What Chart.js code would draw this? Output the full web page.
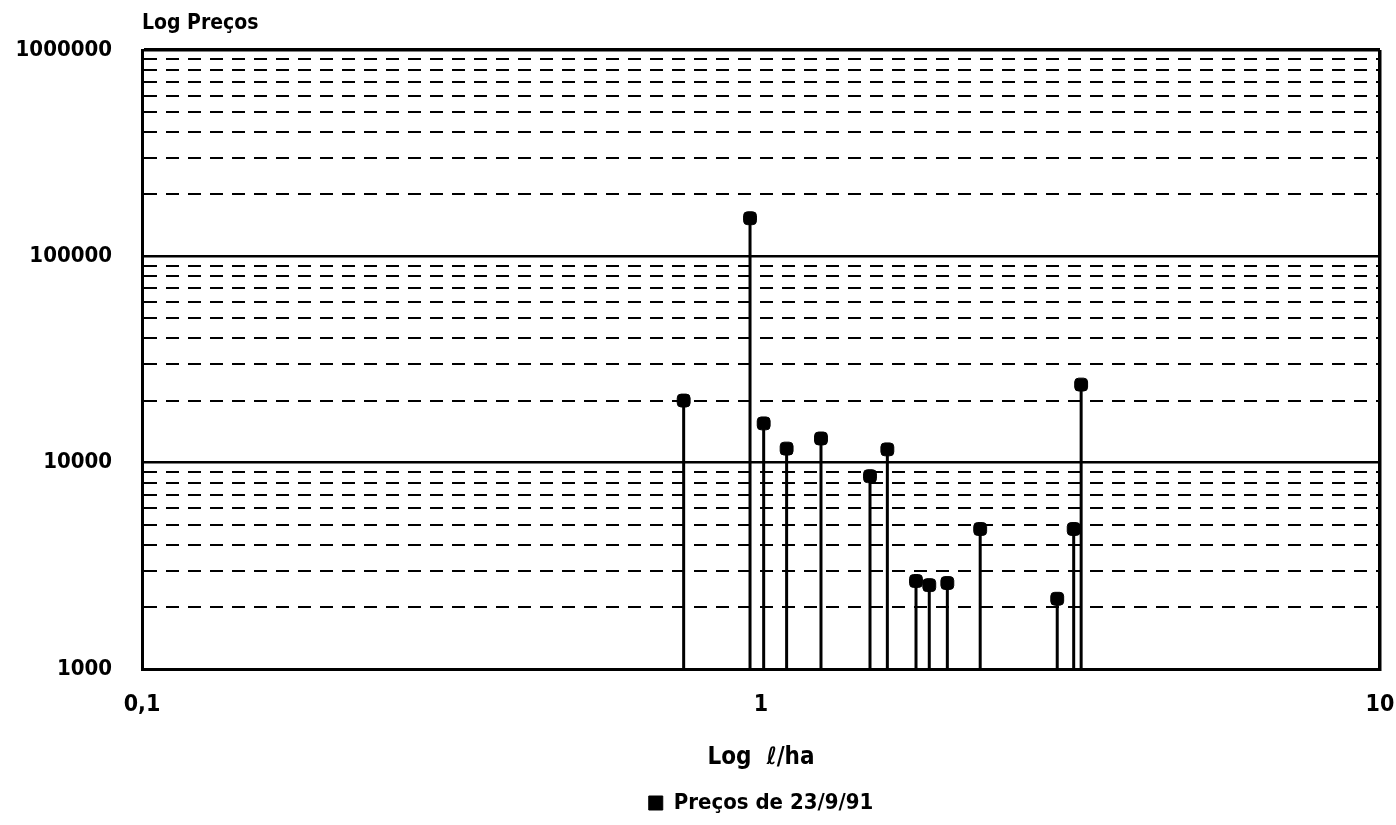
<!DOCTYPE html>
<html lang="pt">
<head>
<meta charset="utf-8">
<title>Log Preços × Log ℓ/ha</title>
<script src="https://cdn.jsdelivr.net/npm/chart.js@4.4.1/dist/chart.umd.min.js"></script>
<style>
  html, body { margin: 0; padding: 0; background: #fff; }
  canvas { display: block; }
</style>
</head>
<body>
<canvas id="chart" width="1396" height="825"></canvas>
<script>
// Doses (ℓ/ha) e preços observados em 23/9/91
const doses  = [0.75, 0.96, 1.01, 1.10, 1.25, 1.50, 1.60, 1.78, 1.87, 2.00, 2.26, 3.01, 3.20, 3.29];
const precos = [20000, 153000, 15500, 11700, 13100, 8600, 11600, 2670, 2550, 2610, 4770, 2190, 4770, 23900];

// Eixo dos preços: décadas (com rótulo) e subdivisões 2..9 de cada década
const yDecadas = [1000, 10000, 100000, 1000000];
const ySubdivisoes = [2, 3, 4, 5, 6, 7, 8, 9];

// Eixo das doses
const xTicks  = [0.1, 1, 10];
const xLabels = ['0,1', '1', '10'];

const serieNome = 'Preços de 23/9/91';

const yTicks = [];
yDecadas.forEach((d, i) => {
  yTicks.push(d);
  if (i < yDecadas.length - 1) ySubdivisoes.forEach(m => yTicks.push(d * m));
});

// Hastes verticais: da base do eixo (1000) até cada preço, separadas por lacunas
const hastes = [];
doses.forEach((x, i) => {
  hastes.push({ x, y: yDecadas[0] }, { x, y: precos[i] }, { x, y: null });
});
const pontos = doses.map((x, i) => ({ x, y: precos[i] }));

const FAMILIA = "'DejaVu Sans Condensed', 'DejaVu Sans', sans-serif";
const fonte = (size) => ({ family: FAMILIA, size, weight: 'bold' });
const ehDecada = (c) => !c.tick || yDecadas.includes(c.tick.value);

new Chart(document.getElementById('chart'), {
  type: 'scatter',
  data: {
    datasets: [
      {
        label: 'hastes',
        data: hastes,
        showLine: true,
        spanGaps: false,
        borderColor: '#000',
        borderWidth: 3,
        pointRadius: 0,
        pointHoverRadius: 0
      },
      {
        label: serieNome,
        data: pontos,
        showLine: false,
        pointStyle: 'rectRounded',
        pointRadius: 7.5,
        pointHoverRadius: 7.5,
        backgroundColor: '#000',
        borderColor: '#000',
        borderWidth: 1
      }
    ]
  },
  options: {
    responsive: false,
    animation: false,
    devicePixelRatio: 1,
    layout: { padding: { left: 0, right: 16, top: 0, bottom: 1 } },
    plugins: {
      title: {
        display: true,
        text: 'Log Preços',
        align: 'start',
        fullSize: false,
        color: '#000',
        font: fonte(21),
        padding: { top: 11, bottom: 13.8 }
      },
      legend: {
        position: 'bottom',
        fullSize: false,
        labels: {
          filter: (item) => item.datasetIndex === 1,
          usePointStyle: true,
          pointStyle: 'rect',
          boxWidth: 14,
          boxHeight: 14,
          color: '#000',
          font: fonte(22),
          padding: 6
        }
      },
      tooltip: { enabled: false }
    },
    scales: {
      x: {
        type: 'logarithmic',
        position: 'bottom',
        min: 0.1,
        max: 10,
        afterBuildTicks: (s) => { s.ticks = xTicks.map(v => ({ value: v })); },
        afterFit: (s) => { s.height = 117; s.paddingLeft = 0; s.paddingRight = 0; },
        ticks: {
          callback: (v) => { const i = xTicks.indexOf(v); return i >= 0 ? xLabels[i] : ''; },
          autoSkip: false,
          maxRotation: 0,
          color: '#000',
          font: fonte(23),
          padding: 22
        },
        grid: {
          drawTicks: false,
          color: (c) => (c.tick && c.tick.value === 10) ? '#000' : 'rgba(0,0,0,0)',
          lineWidth: 3.5
        },
        border: { display: true, color: '#000', width: 3 },
        title: {
          display: true,
          text: 'Log  ℓ/ha',
          color: '#000',
          font: fonte(24),
          padding: { top: 0, bottom: 13.6 }
        }
      },
      y: {
        type: 'logarithmic',
        min: 1000,
        max: 1000000,
        afterBuildTicks: (s) => { s.ticks = yTicks.map(v => ({ value: v })); },
        afterFit: (s) => { s.width = 142; },
        ticks: {
          callback: (v) => yDecadas.includes(v) ? String(v) : '',
          autoSkip: false,
          color: '#000',
          font: fonte(22),
          padding: 30
        },
        grid: {
          drawTicks: false,
          color: '#000',
          lineWidth: (c) => (c.tick && c.tick.value === 1000000) ? 3.5 : (ehDecada(c) ? 2.5 : 2)
        },
        border: {
          display: true,
          color: '#000',
          width: 3,
          dash: (c) => ehDecada(c) ? [] : [13, 9]
        }
      }
    }
  }
});
</script>
</body>
</html>
